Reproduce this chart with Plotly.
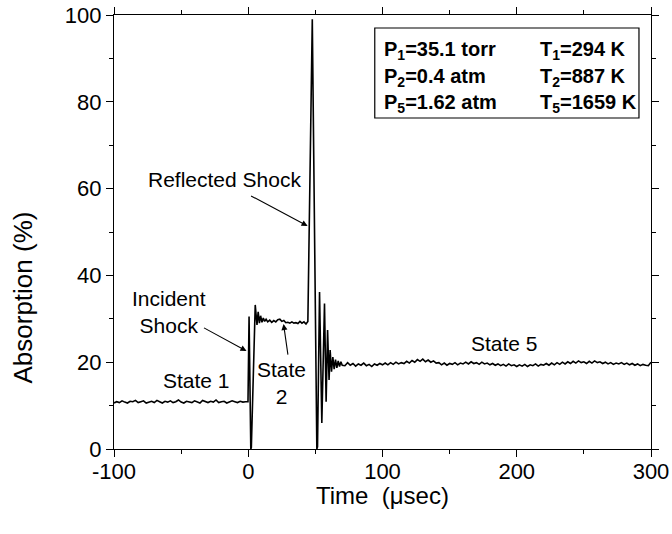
import numpy as np
import plotly.graph_objects as go

# ---- data ----
state1_t = list(range(-100, 0, 2))
state1_a = [10.6, 10.9, 10.7, 11.1, 10.8, 10.6, 11.0, 10.9, 11.2, 10.7,
            10.9, 11.1, 10.6, 10.8, 11.0, 10.7, 11.2, 10.9, 10.6, 11.0,
            10.8, 11.1, 10.7, 10.9, 11.3, 10.8, 10.6, 11.0, 10.9, 10.7,
            11.1, 10.8, 10.6, 11.2, 10.9, 10.7, 11.0, 10.8, 11.3, 10.7,
            10.9, 11.0, 10.6, 10.8, 11.1, 10.9, 10.7, 11.0, 10.8, 10.9]

shock_t = [-0.2, 0.6, 1.9, 2.3, 5.2, 6.5, 7.4, 8.3, 9.2, 10.2, 11.2, 12.2, 13.3, 14.5]
shock_a = [10.9, 30.5, 0.0, 0.3, 33.2, 28.6, 31.6, 29.0, 30.7, 29.2, 30.2, 29.4, 29.9, 29.3]

state2_t = [16, 17.5, 19, 20.5, 22, 23.5, 25, 26.5, 28, 29.5, 31, 32.5, 34, 35.5,
            37, 38.5, 40, 41.5, 43, 44.4]
state2_a = [29.7, 29.2, 29.6, 29.3, 29.8, 29.9, 29.4, 29.6, 29.1, 29.2, 29.0, 29.3,
            29.0, 29.1, 28.9, 29.4, 29.0, 29.3, 28.8, 29.4]

reflect_t = [47.7, 51.1, 51.6, 53.1, 54.8, 56.8, 58.0, 59.1, 60.2, 61.0, 62.0,
             63.0, 64.0, 65.0, 66.0, 67.0, 68.0, 69.0, 70.0]
reflect_a = [99.0, 0.0, 0.5, 36.2, 6.0, 33.5, 10.9, 27.4, 15.9, 22.8, 17.8,
             21.2, 18.4, 20.6, 18.7, 20.3, 19.0, 20.1, 19.3]

state5_t = list(range(72, 301, 2))
state5_a = [19.2, 19.9, 19.3, 19.7, 19.1, 19.6, 19.3, 19.8, 19.2, 19.5, 19.0, 19.6, 19.3, 19.7, 19.4,
            19.8, 19.4, 19.9, 19.5, 20.0, 19.6, 19.9, 19.7, 20.2, 19.8,
            20.4, 20.0, 20.6, 20.2, 20.7, 20.1, 20.5, 20.0, 20.3, 19.8,
            19.9, 19.4, 19.8, 19.3, 19.7, 19.5, 19.9, 19.4, 19.8, 19.6,
            20.0, 19.6, 20.1, 19.7, 19.9, 19.5, 20.0, 19.6, 19.8, 19.4,
            19.7, 19.3, 19.6, 19.2, 19.5, 19.1, 19.6, 19.2, 19.4, 19.0,
            19.4, 19.1, 19.5, 19.0, 19.4, 19.2, 19.6, 19.1, 19.5, 19.3,
            19.7, 19.3, 19.8, 19.4, 19.9, 19.5, 20.0, 19.6, 20.1, 19.7,
            20.2, 19.8, 20.3, 19.9, 20.1, 19.7, 20.2, 19.8, 20.3, 19.9,
            20.1, 19.7, 20.0, 19.6, 19.9, 19.5, 19.8, 19.6, 19.9, 19.5,
            19.8, 19.4, 19.7, 19.3, 19.6, 19.2, 19.5, 19.3, 19.2, 20.0]

time_us = state1_t + shock_t + state2_t + reflect_t + state5_t
absorption = state1_a + shock_a + state2_a + reflect_a + state5_a

x_ticks = [-100, 0, 100, 200, 300]
y_ticks = [0, 20, 40, 60, 80, 100]

FONT = "Liberation Sans, Arial, sans-serif"

fig = go.Figure()
fig.add_trace(go.Scatter(x=time_us, y=absorption, mode="lines",
                         line=dict(color="black", width=1.6), showlegend=False))

axis_common = dict(showgrid=False, zeroline=False, showline=True, linecolor="black",
                   linewidth=1.2, mirror="ticks", ticks="outside", ticklen=7,
                   tickwidth=1.2, tickcolor="black", automargin=False,
                   tickfont=dict(family=FONT, size=22, color="black"))
fig.update_xaxes(range=[-100, 300], tickvals=x_ticks,
                 ticktext=[str(v) for v in x_ticks], ticklabelstandoff=-5,
                 minor=dict(dtick=50, ticklen=4, tickcolor="black", ticks="outside", tickwidth=1.2),
                 **axis_common)
fig.update_yaxes(range=[0, 100], tickvals=y_ticks,
                 ticktext=[str(v) for v in y_ticks],
                 minor=dict(dtick=10, ticklen=4, tickcolor="black", ticks="outside", tickwidth=1.2),
                 **axis_common)

ann = []
# axis titles
ann.append(dict(text="Time  (\u03bcsec)", xref="paper", yref="paper", x=0.5, y=-0.106,
                xanchor="center", yanchor="middle", showarrow=False,
                font=dict(family=FONT, size=24, color="black")))
ann.append(dict(text="Absorption (%)", xref="paper", yref="paper", x=-0.1687, y=0.35,
                xanchor="center", yanchor="middle", showarrow=False, textangle=-90,
                font=dict(family=FONT, size=26, color="black")))

tfont = dict(family=FONT, size=21, color="black")
ann.append(dict(text="Reflected Shock", x=-17.7, y=62.0, showarrow=False, font=tfont))
ann.append(dict(text="Incident<br>Shock", x=-58.7, y=31.6, showarrow=False, font=tfont))
ann.append(dict(text="State 1", x=-38.5, y=15.7, showarrow=False, font=tfont))
ann.append(dict(text="State<br>2", x=24.8, y=15.2, showarrow=False, font=tfont))
ann.append(dict(text="State 5", x=191, y=24.4, showarrow=False, font=tfont))

# arrows
for (tx, ty, hx, hy) in [(0.97, 58.5, 44.2, 51.4), (-34.1, 28.1, -1.3, 22.6), (29.7, 21.4, 26.3, 28.8)]:
    ann.append(dict(text="", x=hx, y=hy, ax=tx, ay=ty, axref="x", ayref="y",
                    showarrow=True, arrowhead=2, arrowsize=1.1, arrowwidth=1.1,
                    arrowcolor="black"))

# parameter box
bfont = dict(family=FONT, size=20, color="black")
rows = [("P<sub>1</sub>=35.1 torr", "T<sub>1</sub>=294 K", 0.919),
        ("P<sub>2</sub>=0.4 atm", "T<sub>2</sub>=887 K", 0.857),
        ("P<sub>5</sub>=1.62 atm", "T<sub>5</sub>=1659 K", 0.795)]
for p, t, yy in rows:
    ann.append(dict(text="<b>" + p + "</b>", xref="paper", yref="paper", x=0.4995, y=yy,
                    xanchor="left", yanchor="middle", showarrow=False, font=bfont))
    ann.append(dict(text="<b>" + t + "</b>", xref="paper", yref="paper", x=0.7894, y=yy,
                    xanchor="left", yanchor="middle", showarrow=False, font=bfont))

fig.add_shape(type="rect", xref="paper", yref="paper", x0=0.4856, x1=0.9776,
              y0=0.7627, y1=0.970, line=dict(color="black", width=1.2))

fig.update_layout(width=672, height=534, margin=dict(l=114, r=21, t=15, b=85),
                  paper_bgcolor="white", plot_bgcolor="white", annotations=ann,
                  font=dict(family=FONT, color="black"))

fig.write_html("out.html", config={"displayModeBar": False},
               post_script="document.body.style.margin='0px';")
